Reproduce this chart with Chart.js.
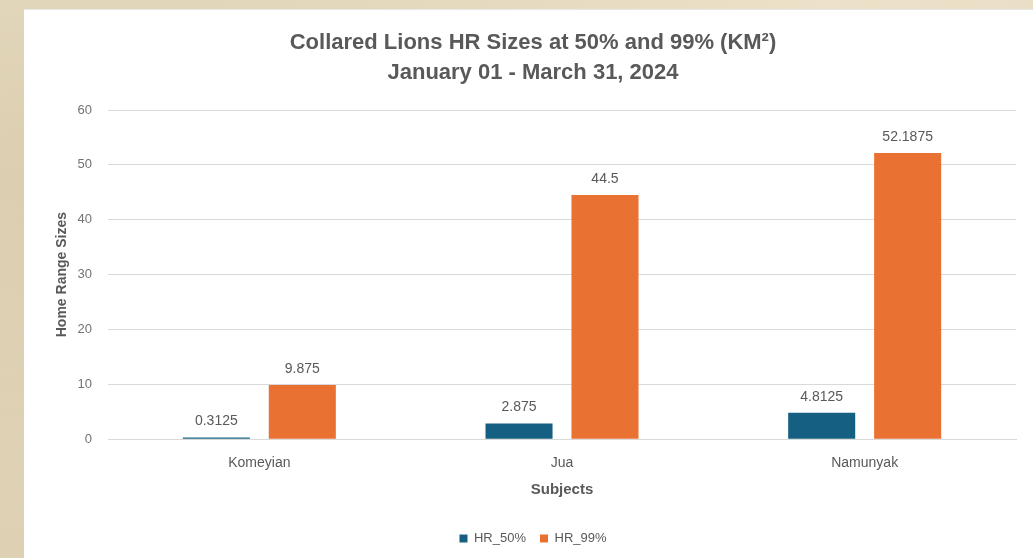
<!DOCTYPE html>
<html>
<head>
<meta charset="utf-8">
<script src="https://cdn.jsdelivr.net/npm/chart.js@4"></script>
<style>
  html, body { margin: 0; padding: 0; }
  body {
    width: 1033px; height: 558px; overflow: hidden; position: relative;
    background:
      radial-gradient(ellipse at 10% 30%, rgba(205,188,150,0.35), transparent 60%),
      radial-gradient(ellipse at 80% 0%, rgba(240,230,205,0.6), transparent 50%),
      linear-gradient(180deg, #e6dbc2 0%, #ddd0b3 100%);
  }
  #card {
    position: absolute; left: 24px; top: 9px; width: 1009px; height: 549px;
    background: #ffffff; border-top: 1px solid #e6e7eb; box-sizing: border-box;
  }
  #card canvas { display: block; }
</style>
</head>
<body>
<div id="card"><canvas id="hr-chart" width="1009" height="548"></canvas></div>
<script>
// home range sizes per collared lion (km2)
const subjects = ['Komeyian', 'Jua', 'Namunyak'];
const hr50 = [0.3125, 2.875, 4.8125];
const hr99 = [9.875, 44.5, 52.1875];
const titleLines = ['Collared Lions HR Sizes at 50% and 99% (KM\u00B2)', 'January 01 - March 31, 2024'];

const TEXT = '#595959';
const FONT = "'Liberation Sans', Arial, sans-serif";

// value labels above each bar
const barValues = {
  id: 'barValues',
  afterDatasetsDraw(chart) {
    const ctx = chart.ctx;
    ctx.save();
    ctx.font = '14px ' + FONT;
    ctx.fillStyle = TEXT;
    ctx.textAlign = 'center';
    ctx.textBaseline = 'middle';
    chart.data.datasets.forEach((ds, i) => {
      chart.getDatasetMeta(i).data.forEach((bar, j) => {
        ctx.fillText(String(ds.data[j]), bar.x, bar.y - 16);
      });
    });
    ctx.restore();
  }
};

Chart.defaults.font.family = FONT;
Chart.defaults.color = TEXT;

new Chart(document.getElementById('hr-chart').getContext('2d'), {
  type: 'bar',
  data: {
    labels: subjects,
    datasets: [
      { label: 'HR_50%', data: hr50, backgroundColor: '#156082' },
      { label: 'HR_99%', data: hr99, backgroundColor: '#E97132' }
    ]
  },
  options: {
    responsive: false,
    animation: false,
    categoryPercentage: 0.568,
    barPercentage: 0.78,
    layout: { padding: { left: 26, right: 17, top: 0, bottom: 3 } },
    plugins: {
      title: {
        display: true,
        text: titleLines,
        color: TEXT,
        font: { size: 22, weight: 'bold', lineHeight: 1.364 },
        padding: { top: 18, bottom: 22 }
      },
      legend: {
        position: 'bottom',
        labels: { boxWidth: 8, boxHeight: 8, padding: 14, font: { size: 13 }, color: TEXT }
      },
      tooltip: { enabled: false }
    },
    scales: {
      x: {
        grid: { display: false },
        border: { color: '#d9d9d9' },
        ticks: { font: { size: 14 }, color: TEXT, padding: 8 },
        title: { display: true, text: 'Subjects', color: TEXT, font: { size: 15, weight: 'bold' }, padding: { top: 1, bottom: 19 } }
      },
      y: {
        min: 0,
        max: 60,
        afterFit(scale) { scale.width = 58; },
        ticks: { stepSize: 10, font: { size: 13 }, color: '#737373', padding: 16 },
        grid: { color: '#d9d9d9', drawTicks: false },
        border: { display: false },
        title: { display: true, text: 'Home Range Sizes', color: TEXT, font: { size: 14, weight: 'bold' }, padding: { top: 4, bottom: 4 } }
      }
    }
  },
  plugins: [barValues]
});
</script>
</body>
</html>
